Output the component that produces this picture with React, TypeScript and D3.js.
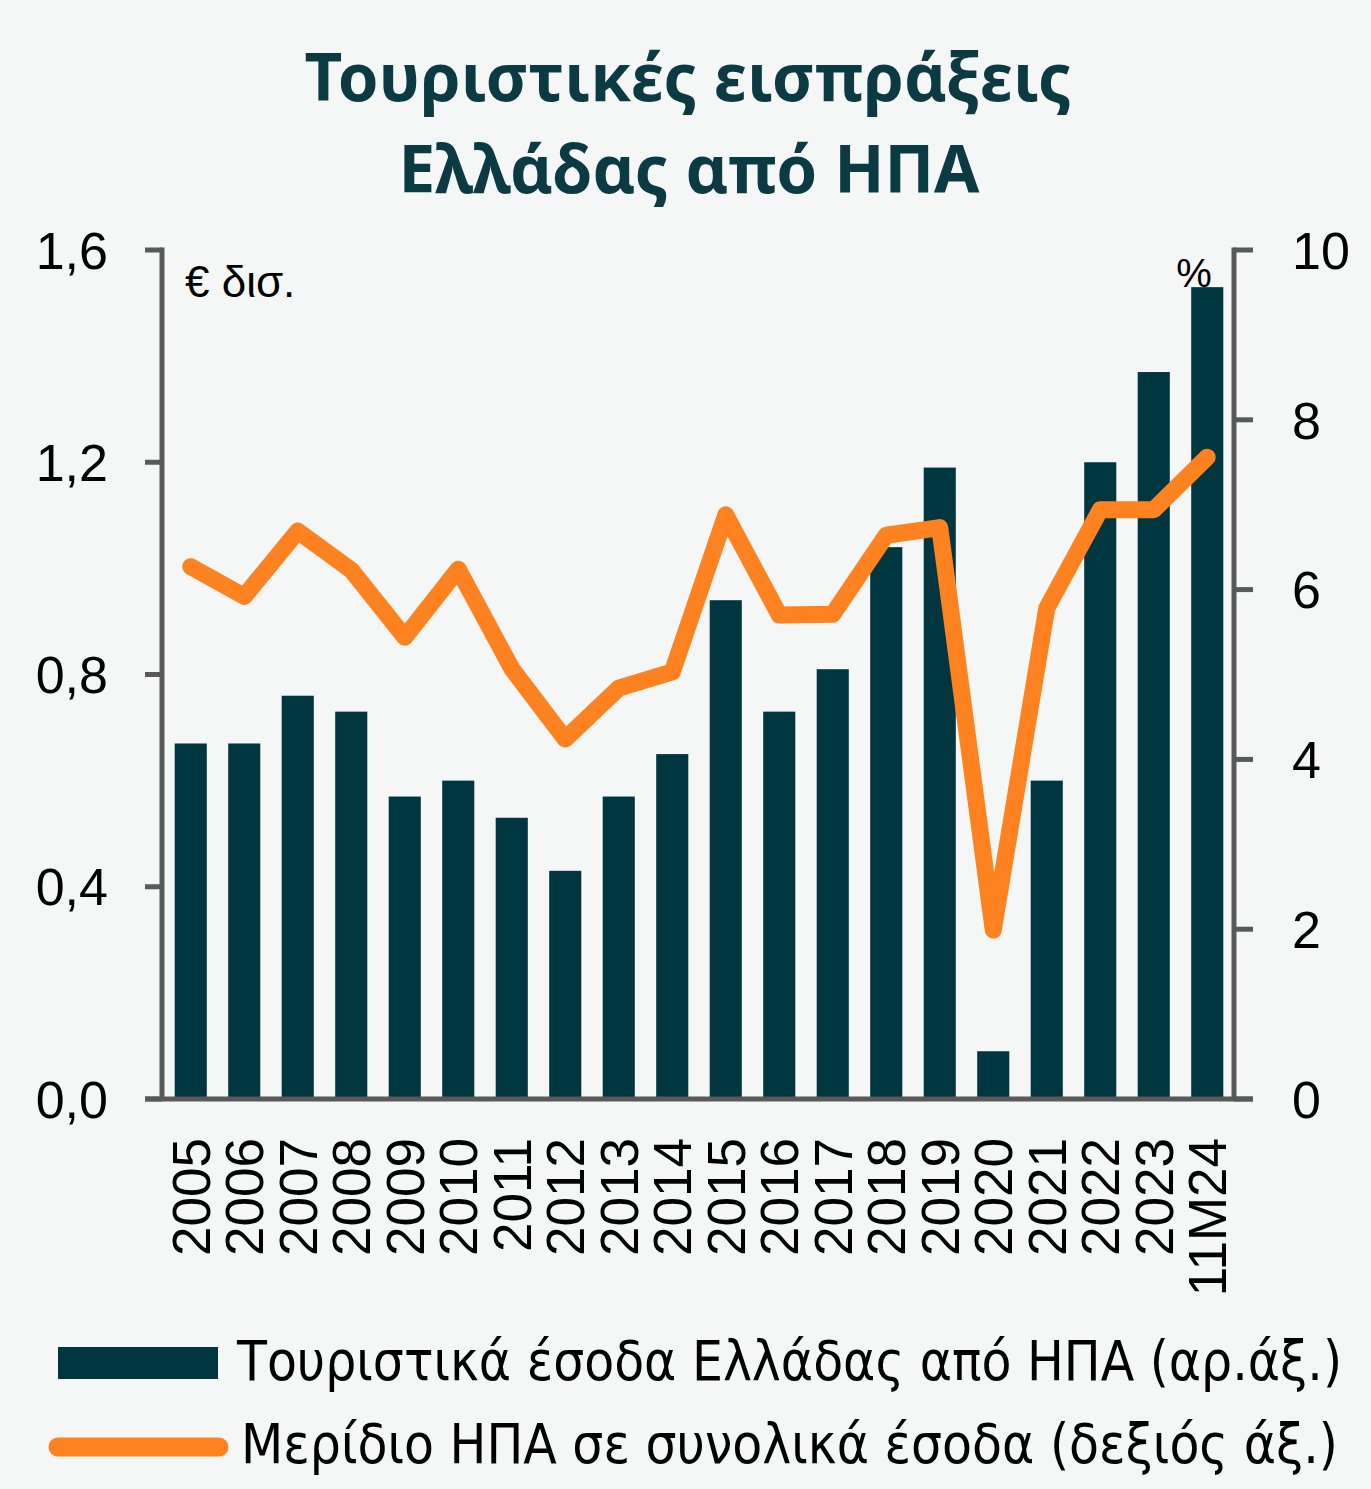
import React from 'react';
import * as d3 from 'd3';

const years = ['2005', '2006', '2007', '2008', '2009', '2010', '2011', '2012', '2013', '2014',
  '2015', '2016', '2017', '2018', '2019', '2020', '2021', '2022', '2023', '11M24'];
const receipts = [0.67, 0.67, 0.76, 0.73, 0.57, 0.6, 0.53, 0.43, 0.57, 0.65,
  0.94, 0.73, 0.81, 1.04, 1.19, 0.09, 0.6, 1.2, 1.37, 1.53];
const usShare = [6.27, 5.92, 6.69, 6.23, 5.44, 6.24, 5.07, 4.24, 4.84, 5.03,
  6.88, 5.7, 5.71, 6.64, 6.73, 1.99, 5.78, 6.94, 6.94, 7.56];
const leftTicks = [0, 0.4, 0.8, 1.2, 1.6];
const rightTicks = [0, 2, 4, 6, 8, 10];

const W = 1371;
const H = 1489;
const BG = '#f5f7f6';
const TEAL = '#003640';
const ORANGE = '#fe821f';
const AXIS = '#595959';
const tickFont = '"Liberation Sans", Arial, sans-serif';
const narrowFont = '"Liberation Sans Narrow", "DejaVu Sans Condensed", "Liberation Sans", sans-serif';

const App: React.FC = () => {
  const top = 250;
  const bottom = 1099;
  const leftX = 162;
  const rightX = 1234;

  const x = d3.scaleBand<string>().domain(years).range([164, 1234]).paddingInner(0.4).paddingOuter(0.2);
  const yL = d3.scaleLinear().domain([0, 1.6]).range([bottom, top]);
  const yR = d3.scaleLinear().domain([0, 10]).range([bottom, top]);
  const cx = (d: string) => (x(d) as number) + x.bandwidth() / 2;

  const line = d3.line<number>()
    .x((_, i) => cx(years[i]))
    .y(d => yR(d));

  const fmt = (v: number) => v.toFixed(1).replace('.', ',');

  return (
    <svg width={W} height={H} style={{ position: 'absolute', left: 0, top: 0, display: 'block' }}>
      <rect width={W} height={H} fill={BG} />

      {/* Title */}
      <g fill="#0b3a42" fontFamily='"Noto Sans", "Open Sans", sans-serif' fontWeight={700} fontSize={67} textAnchor="middle">
        <text x={688} y={101} textLength={767} lengthAdjust="spacingAndGlyphs">Τουριστικές εισπράξεις</text>
        <text x={689} y={193} textLength={581} lengthAdjust="spacingAndGlyphs">Ελλάδας από ΗΠΑ</text>
      </g>

      {/* Bars */}
      {receipts.map((v, i) => (
        <rect key={years[i]} x={x(years[i])} y={yL(v)} width={x.bandwidth()} height={bottom - yL(v)} fill={TEAL} />
      ))}

      {/* Axes */}
      <g stroke={AXIS} strokeWidth={5} fill="none">
        <line x1={leftX} x2={leftX} y1={top - 2.5} y2={bottom} />
        <line x1={rightX} x2={rightX} y1={top - 2.5} y2={bottom} />
        <line x1={145} x2={1253} y1={bottom} y2={bottom} />
        {leftTicks.map(t => (
          <line key={'l' + t} x1={145} x2={leftX} y1={yL(t)} y2={yL(t)} />
        ))}
        {rightTicks.map(t => (
          <line key={'r' + t} x1={rightX} x2={1253} y1={yR(t)} y2={yR(t)} />
        ))}
      </g>

      {/* Tick labels */}
      <g fontFamily={tickFont} fontSize={52} fill="#000">
        {leftTicks.map(t => (
          <text key={'lt' + t} x={108} y={yL(t)} dy="0.36em" textAnchor="end">{fmt(t)}</text>
        ))}
        {rightTicks.map(t => (
          <text key={'rt' + t} x={1292} y={yR(t)} dy="0.36em" textAnchor="start">{t}</text>
        ))}
      </g>

      {/* Unit labels */}
      <text x={185} y={297} fontFamily={tickFont} fontSize={44} fill="#000">€ δισ.</text>
      <text x={1194} y={287} fontFamily={tickFont} fontSize={40} fill="#000" textAnchor="middle">%</text>

      {/* Share line */}
      <path d={line(usShare) || ''} fill="none" stroke={ORANGE} strokeWidth={17}
        strokeLinejoin="round" strokeLinecap="round" />

      {/* X labels */}
      <g fontFamily={tickFont} fontSize={53} fill="#000">
        {years.map(d => (
          <text key={d} transform={`translate(${cx(d)},1138) rotate(-90)`} dy="0.36em" textAnchor="end">{d}</text>
        ))}
      </g>

      {/* Legend */}
      <rect x={58} y={1347} width={160} height={32} fill={TEAL} />
      <line x1={58} x2={219} y1={1447} y2={1447} stroke={ORANGE} strokeWidth={19} strokeLinecap="round" />
      <g fontFamily={narrowFont} fontSize={55} fill="#000">
        <text x={237} y={1380} textLength={1105} lengthAdjust="spacingAndGlyphs">Τουριστικά έσοδα Ελλάδας από ΗΠΑ (αρ.άξ.)</text>
        <text x={241} y={1463} textLength={1097} lengthAdjust="spacingAndGlyphs">Μερίδιο ΗΠΑ σε συνολικά έσοδα (δεξιός άξ.)</text>
      </g>
    </svg>
  );
};

export default App;
